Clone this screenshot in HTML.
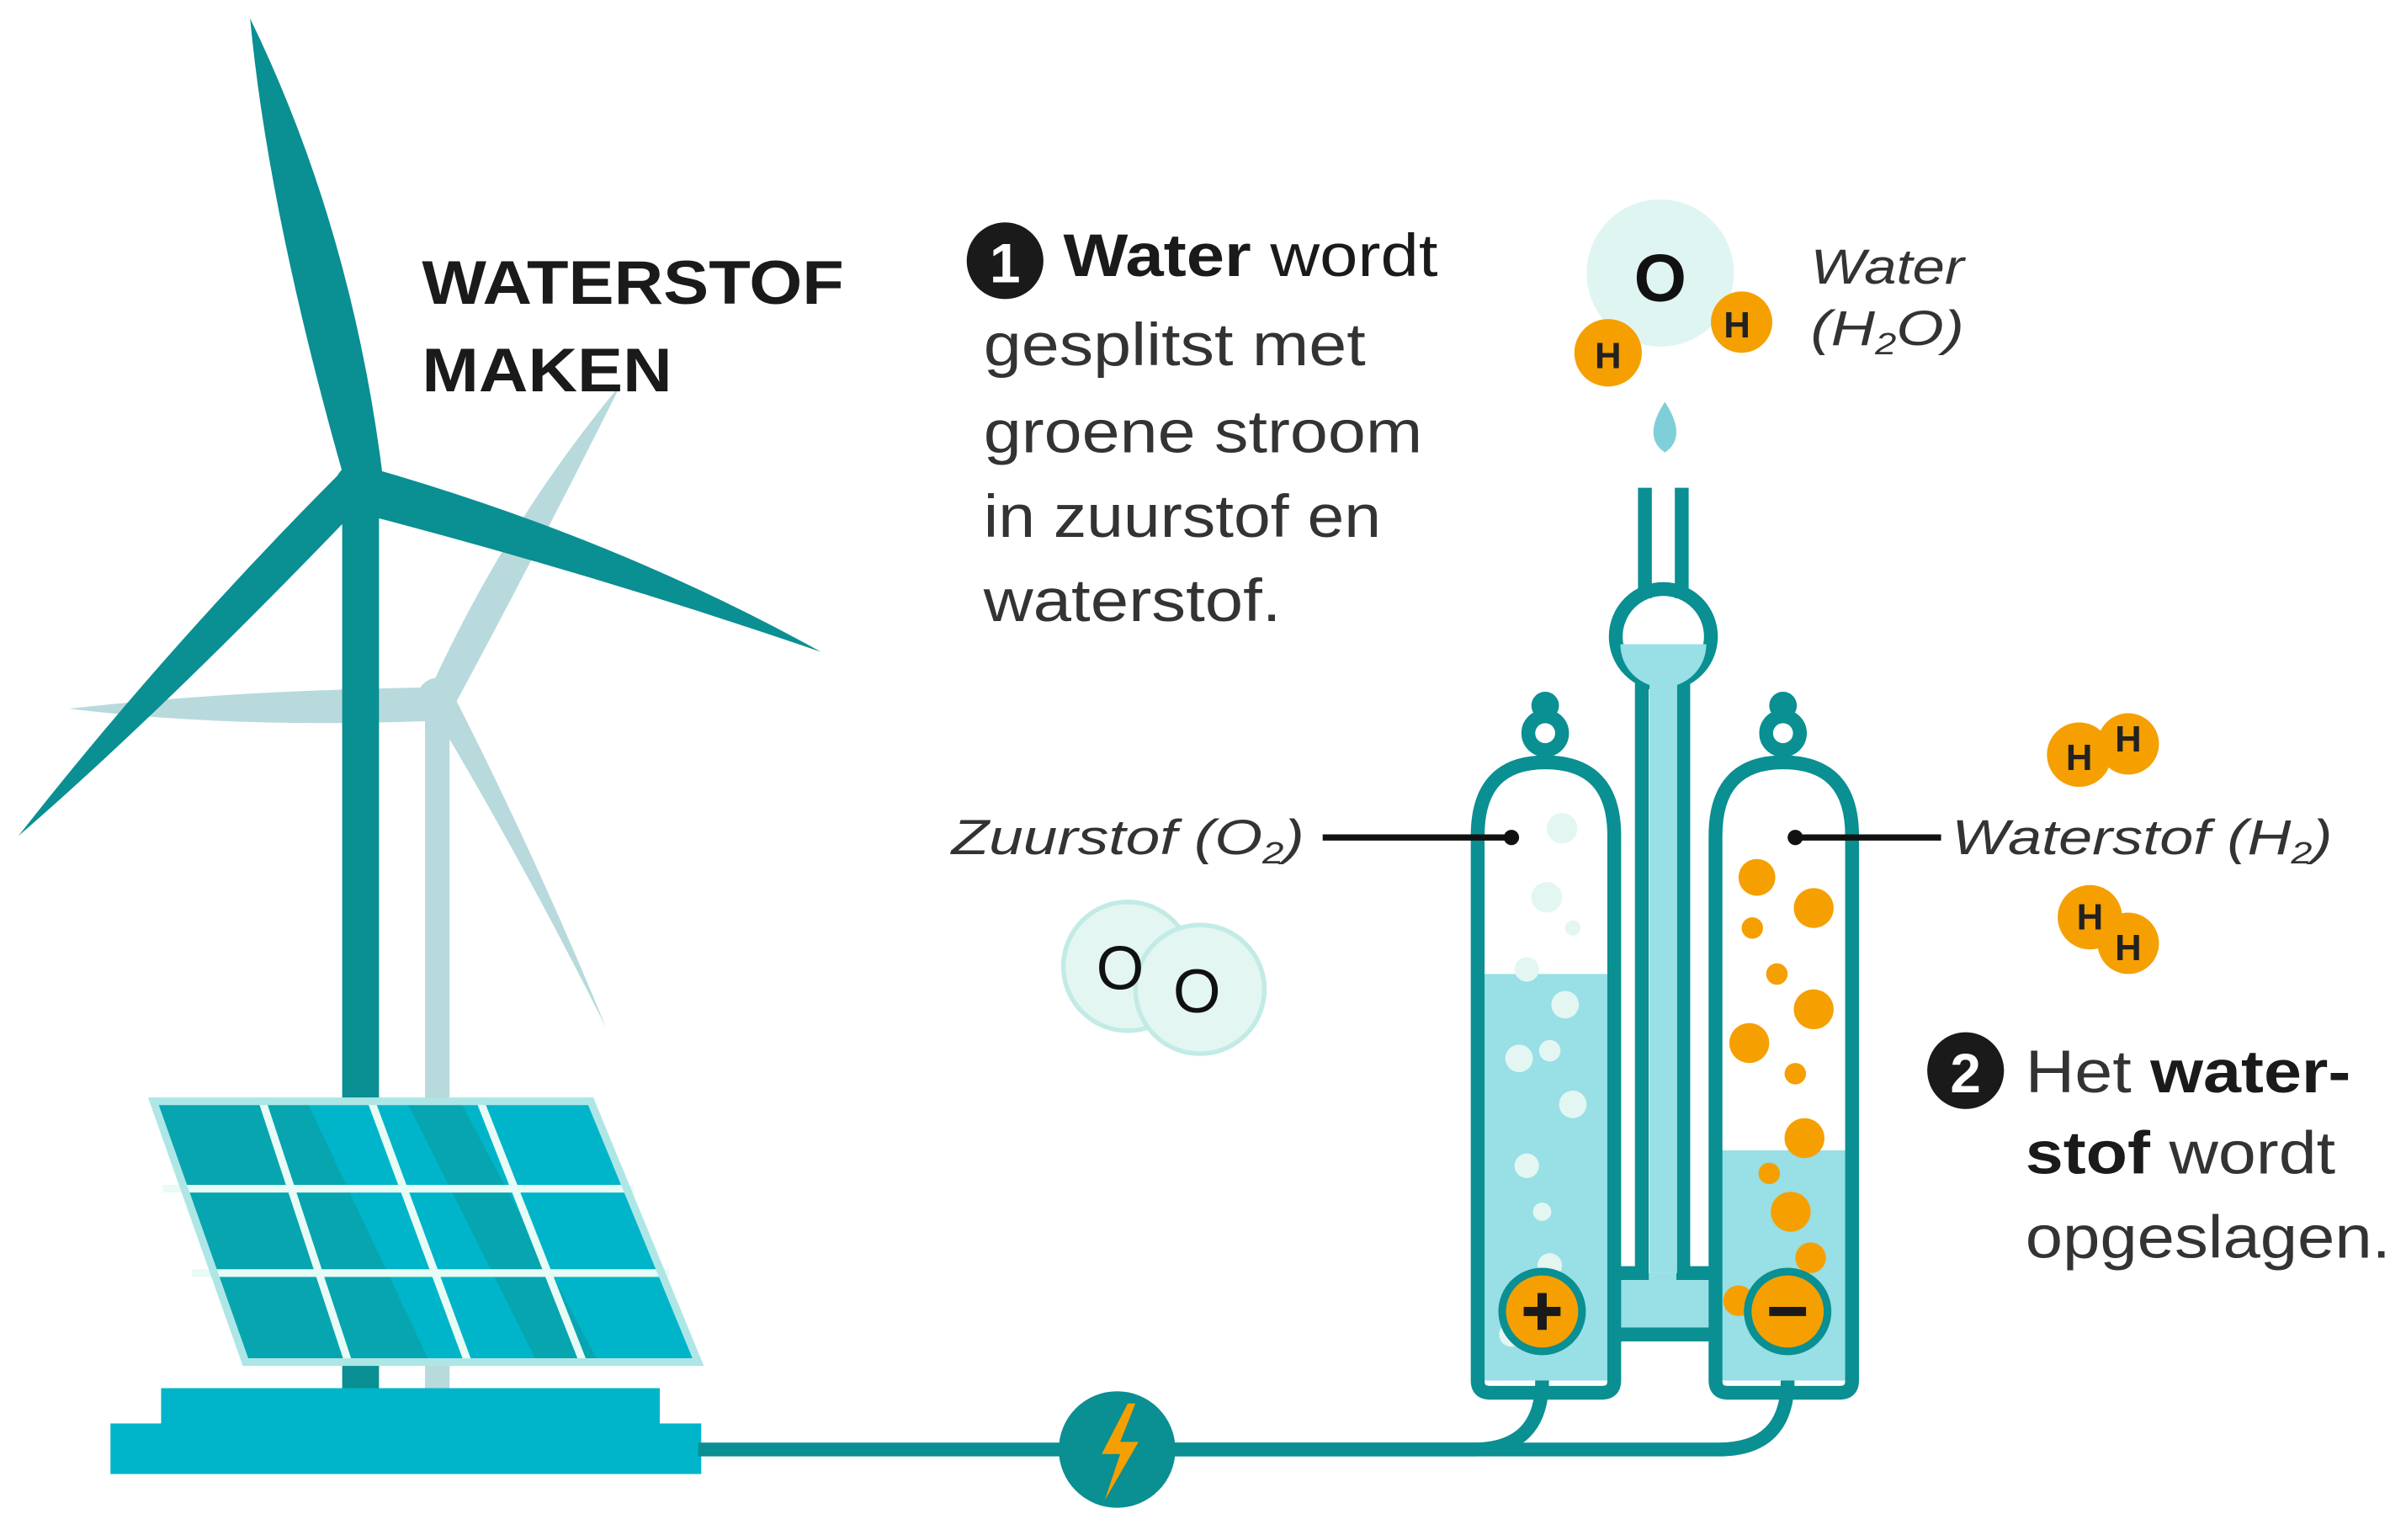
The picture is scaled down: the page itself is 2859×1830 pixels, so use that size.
<!DOCTYPE html>
<html><head><meta charset="utf-8"><style>html,body{margin:0;padding:0;background:#fff}svg{display:block}</style></head>
<body>
<svg width="2859" height="1830" viewBox="0 0 1568 1004" preserveAspectRatio="none" xmlns="http://www.w3.org/2000/svg" font-family="Liberation Sans, sans-serif">
<rect width="1568" height="1004" fill="#fff"/>
<!-- back turbine -->
<g fill="#b8dadd">
<rect x="277" y="455" width="16" height="455"/>
<path d="M280 450 Q330 340 405 250 Q350 360 295 462 Z"/>
<path d="M288 448 Q150 450 45 462 Q150 475 282 470 Z"/>
<path d="M280 460 Q340 560 395 670 Q350 560 294 450 Z"/>
<circle cx="285" cy="455" r="13"/>
</g>
<!-- front turbine -->
<g fill="#0a8f92">
<rect x="223" y="318" width="24" height="592"/>
<path d="M226 318 Q175 140 163 12 Q230 150 250 315 Z"/>
<path d="M238 304 Q400 350 535 425 Q390 375 232 334 Z"/>
<path d="M240 324 Q110 460 12 545 Q110 420 224 306 Z"/>
<circle cx="235" cy="318" r="17"/>
</g>
<!-- solar panel -->
<polygon points="100,718 385,718 455,888 160,888" fill="#00b5c9"/>
<polygon points="100,718 200,718 280,888 160,888" fill="#07a5b0"/>
<polygon points="265,718 300,718 390,888 350,888" fill="#07a5b0"/>
<g stroke="#e8fbf6" stroke-width="5">
<line x1="106" y1="775" x2="413" y2="775"/>
<line x1="125" y1="830" x2="436" y2="830"/>
<line x1="171" y1="718" x2="227" y2="888"/>
<line x1="242" y1="718" x2="305" y2="888"/>
<line x1="313" y1="718" x2="380" y2="888"/>
</g>
<polygon points="100,718 385,718 455,888 160,888" fill="none" stroke="#aee6e6" stroke-width="5"/>
<rect x="105" y="905" width="325" height="30" fill="#00b5c9"/>
<rect x="72" y="928" width="385" height="33" fill="#00b5c9"/>
<!-- cables -->
<g fill="none" stroke="#0a8f92" stroke-width="9">
<path d="M455 945 L960 945 Q1005 945 1005 900"/>
<path d="M760 945 L1120 945 Q1165 945 1165 900"/>
</g>
<circle cx="728" cy="945" r="38" fill="#0a8f92"/>
<path d="M735 915 L718 948 L730 948 L720 978 L742 940 L730 940 L740 915 Z" fill="#f5a000"/>
<!-- electrolyzer -->
<path d="M965 545 Q965 500 1007 500 Q1050 500 1050 545 L1050 900 L965 900 Z" fill="#fff"/>
<path d="M967 635 L1048 635 L1048 900 L967 900 Z" fill="#98dfe6"/>
<path d="M1120 545 Q1120 500 1162 500 Q1205 500 1205 545 L1205 900 L1120 900 Z" fill="#fff"/>
<path d="M1122 750 L1203 750 L1203 900 L1122 900 Z" fill="#98dfe6"/>
<rect x="1050" y="830" width="70" height="40" fill="#98dfe6"/>
<g fill="none" stroke="#0a8f92" stroke-width="9">
<path d="M963 900 L963 545 Q963 497 1007 497 Q1052 497 1052 545 L1052 900 Q1052 908 1044 908 L971 908 Q963 908 963 900 Z"/>
<path d="M1118 900 L1118 545 Q1118 497 1162 497 Q1207 497 1207 545 L1207 900 Q1207 908 1199 908 L1126 908 Q1118 908 1118 900 Z"/>
<path d="M1052 830 L1070 830 L1070 440 M1097 440 L1097 830 L1118 830 M1052 870 L1118 870"/>
<circle cx="1007" cy="478" r="11"/>
<circle cx="1162" cy="478" r="11"/>
<path d="M1072 318 L1072 390 M1096 318 L1096 390"/>
<circle cx="1084" cy="415" r="31"/>
</g>
<g fill="#0a8f92"><circle cx="1007" cy="460" r="9"/><circle cx="1162" cy="460" r="9"/></g>
<rect x="1075" y="445" width="18" height="385" fill="#98dfe6"/>
<path d="M1056 420 L1112 420 A28 28 0 0 1 1056 420 Z" fill="#98dfe6"/>
<path d="M1085 262 Q1100 285 1085 295 Q1070 285 1085 262 Z" fill="#7fcfd8"/>
<!-- bubbles -->
<g fill="#e3f6f2">
<circle cx="1018" cy="540" r="10"/><circle cx="1008" cy="585" r="10"/><circle cx="1025" cy="605" r="5"/>
<circle cx="995" cy="632" r="8"/><circle cx="1020" cy="655" r="9"/><circle cx="990" cy="690" r="9"/><circle cx="1010" cy="685" r="7"/>
<circle cx="1025" cy="720" r="9"/><circle cx="995" cy="760" r="8"/><circle cx="1005" cy="790" r="6"/><circle cx="1010" cy="825" r="8"/><circle cx="985" cy="870" r="8"/>
</g>
<g fill="#f5a000">
<circle cx="1145" cy="572" r="12"/><circle cx="1182" cy="592" r="13"/><circle cx="1142" cy="605" r="7"/><circle cx="1158" cy="635" r="7"/>
<circle cx="1182" cy="658" r="13"/><circle cx="1140" cy="680" r="13"/><circle cx="1170" cy="700" r="7"/><circle cx="1176" cy="742" r="13"/>
<circle cx="1153" cy="765" r="7"/><circle cx="1167" cy="790" r="13"/><circle cx="1180" cy="820" r="10"/><circle cx="1133" cy="848" r="10"/>
</g>
<g stroke="#0a8f92" stroke-width="5" fill="#f5a000">
<circle cx="1005" cy="855" r="26"/><circle cx="1165" cy="855" r="26"/>
</g>
<g stroke="#1a1a1a" stroke-width="6"><path d="M993 855 H1017 M1005 843 V867 M1153 855 H1177"/></g>
<!-- water molecule -->
<circle cx="1082" cy="178" r="48" fill="#dff5f2"/>
<text x="1082" y="196" font-size="44" text-anchor="middle" font-weight="bold" fill="#111">O</text>
<circle cx="1048" cy="230" r="22" fill="#f5a000"/><text x="1048" y="240" font-size="24" text-anchor="middle" font-weight="bold" fill="#222">H</text>
<circle cx="1135" cy="210" r="20" fill="#f5a000"/><text x="1132" y="220" font-size="24" text-anchor="middle" font-weight="bold" fill="#222">H</text>
<!-- O2 molecule -->
<circle cx="735" cy="630" r="42" fill="#e3f6f2" stroke="#c2ebe6" stroke-width="3"/>
<circle cx="782" cy="645" r="42" fill="#e3f6f2" stroke="#c2ebe6" stroke-width="3"/>
<text x="730" y="645" font-size="40" text-anchor="middle" fill="#111">O</text>
<text x="780" y="660" font-size="40" text-anchor="middle" fill="#111">O</text>
<!-- H2 molecules -->
<g fill="#f5a000"><circle cx="1355" cy="492" r="21"/><circle cx="1387" cy="485" r="20"/><circle cx="1362" cy="598" r="21"/><circle cx="1387" cy="615" r="20"/></g>
<g font-size="24" font-weight="bold" fill="#222" text-anchor="middle">
<text x="1355" y="502">H</text><text x="1387" y="490">H</text><text x="1362" y="606">H</text><text x="1387" y="626">H</text></g>
<!-- label lines -->
<g stroke="#111" stroke-width="4"><line x1="862" y1="546" x2="985" y2="546"/><line x1="1170" y1="546" x2="1265" y2="546"/></g>
<circle cx="985" cy="546" r="5" fill="#111"/><circle cx="1170" cy="546" r="5" fill="#111"/>
<!-- texts -->
<g fill="#1a1a1a">
<text x="275" y="198" font-size="40" font-weight="bold" textLength="275" lengthAdjust="spacingAndGlyphs">WATERSTOF</text>
<text x="275" y="255" font-size="40" font-weight="bold" textLength="163" lengthAdjust="spacingAndGlyphs">MAKEN</text>
<circle cx="655" cy="170" r="25"/>
<text x="655" y="184" font-size="36" font-weight="bold" fill="#fff" text-anchor="middle">1</text>
<text x="693" y="180" font-size="39" textLength="244" lengthAdjust="spacingAndGlyphs"><tspan font-weight="bold">Water</tspan> wordt</text>
<g font-size="39" fill="#333">
<text x="641" y="238" textLength="249" lengthAdjust="spacingAndGlyphs">gesplitst met</text>
<text x="641" y="295" textLength="286" lengthAdjust="spacingAndGlyphs">groene stroom</text>
<text x="641" y="350" textLength="259" lengthAdjust="spacingAndGlyphs">in zuurstof en</text>
<text x="641" y="405" textLength="194" lengthAdjust="spacingAndGlyphs">waterstof.</text>
</g>
<g font-size="32" font-style="italic" fill="#333">
<text x="1180" y="185" textLength="100" lengthAdjust="spacingAndGlyphs">Water</text>
<text x="1180" y="225" textLength="100" lengthAdjust="spacingAndGlyphs">(H<tspan font-size="20" dy="6">2</tspan><tspan dy="-6">O)</tspan></text>
<text x="620" y="557" textLength="230" lengthAdjust="spacingAndGlyphs">Zuurstof (O<tspan font-size="20" dy="6">2</tspan><tspan dy="-6">)</tspan></text>
<text x="1272" y="557" textLength="248" lengthAdjust="spacingAndGlyphs">Waterstof (H<tspan font-size="20" dy="6">2</tspan><tspan dy="-6">)</tspan></text>
</g>
<circle cx="1281" cy="698" r="25"/>
<text x="1281" y="712" font-size="36" font-weight="bold" fill="#fff" text-anchor="middle">2</text>
<g font-size="39" fill="#333">
<text x="1320" y="712" textLength="212" lengthAdjust="spacingAndGlyphs">Het <tspan font-weight="bold" fill="#1a1a1a">water-</tspan></text>
<text x="1320" y="765" textLength="202" lengthAdjust="spacingAndGlyphs"><tspan font-weight="bold" fill="#1a1a1a">stof</tspan> wordt</text>
<text x="1320" y="820" textLength="238" lengthAdjust="spacingAndGlyphs">opgeslagen.</text>
</g>
</g>
</svg>
</body></html>
